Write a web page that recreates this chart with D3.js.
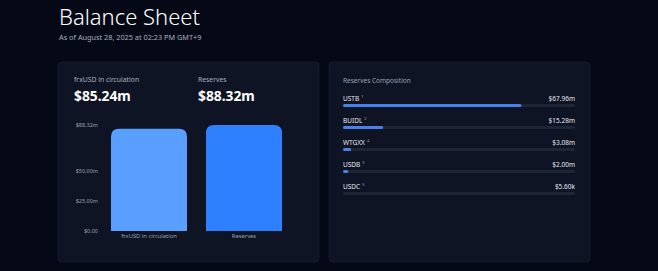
<!DOCTYPE html>
<html>
<head>
<meta charset="utf-8">
<script src="https://cdn.jsdelivr.net/npm/d3@7"></script>
<style>
  body { margin: 0; background: #050916; font-family: "Noto Sans", "Open Sans", sans-serif; }
  svg { display: block; }
</style>
</head>
<body>
<div id="chart"></div>
<script>
// summary numbers (millions)
var summaryLabels = ["frxUSD in circulation", "Reserves"]
var summaryValues = [85.24, 88.32]
var summaryText = ["$85.24m", "$88.32m"]
var yTicks = [0, 25, 50, 88.32]
var yTickLabels = ["$0.00", "$25.00m", "$50.00m", "$88.32m"]

// reserves composition
var assets = ["USTB", "BUIDL", "WTGXX", "USDB", "USDC"]
var assetNotes = ["1", "2", "4", "3", "5"]
var assetValues = [67.96, 15.28, 3.08, 2.00, 0.0056]
var assetText = ["$67.96m", "$15.28m", "$3.08m", "$2.00m", "$5.60k"]

var W = 658, H = 271
var svg = d3.select("#chart").append("svg")
    .attr("width", W).attr("height", H)

// header
svg.append("text")
    .attr("x", 59).attr("y", 25)
    .attr("fill", "#ffffff")
    .attr("font-size", "22px")
    .attr("font-weight", 300)
    .text("Balance Sheet")
svg.append("text")
    .attr("x", 59).attr("y", 40)
    .attr("fill", "#a9b0c0")
    .attr("font-size", "7.3px")
    .text("As of August 28, 2025 at 02:23 PM GMT+9")

// panels
var panels = [[58, 62, 261, 200], [329, 62, 261, 200]]
svg.selectAll("rect.panel").data(panels).enter().append("rect")
    .attr("class", "panel")
    .attr("x", d => d[0]).attr("y", d => d[1])
    .attr("width", d => d[2]).attr("height", d => d[3])
    .attr("rx", 4)
    .attr("fill", "#0e1424")
    .attr("stroke", "#141b2e")

// ---- left panel: summary ----
var sumX = [74, 198]
summaryLabels.forEach(function(lab, i) {
    svg.append("text").attr("x", sumX[i]).attr("y", 82)
        .attr("fill", "#aab1c2").attr("font-size", "6.8px").text(lab)
    svg.append("text").attr("x", sumX[i]).attr("y", 101)
        .attr("fill", "#ffffff").attr("font-size", "13.8px")
        .attr("font-weight", 700).text(summaryText[i])
})

var x = d3.scaleBand()
    .domain(summaryLabels)
    .range([101.5, 291.5])
    .paddingInner(0.2)
    .paddingOuter(0.1)
var y = d3.scaleLinear()
    .domain([0, 88.32])
    .range([231, 125])

var yAxis = svg.append("g")
    .attr("transform", "translate(98,0)")
    .call(d3.axisLeft(y).tickValues(yTicks).tickSize(0).tickPadding(0)
        .tickFormat((d, i) => yTickLabels[i]))
yAxis.select(".domain").remove()
yAxis.selectAll("text").attr("fill", "#9aa2b4").attr("font-size", "5.5px")
    .attr("font-family", "Noto Sans, sans-serif")

var barColors = ["#589fff", "#2f80ff"]
var r = 8
svg.append("g").selectAll("path")
    .data(summaryValues).enter().append("path")
    .attr("fill", (d, i) => barColors[i])
    .attr("d", function(d, i) {
        var x0 = x(summaryLabels[i]), w = x.bandwidth(), y0 = y(d), y1 = y(0)
        return "M" + x0 + "," + y1 +
            "V" + (y0 + r) +
            "Q" + x0 + "," + y0 + " " + (x0 + r) + "," + y0 +
            "H" + (x0 + w - r) +
            "Q" + (x0 + w) + "," + y0 + " " + (x0 + w) + "," + (y0 + r) +
            "V" + y1 + "Z"
    })

var xAxis = svg.append("g")
    .attr("transform", "translate(0,231)")
    .call(d3.axisBottom(x).tickSize(0).tickPadding(3))
xAxis.select(".domain").remove()
xAxis.selectAll("text").attr("fill", "#9aa2b4").attr("font-size", "5.8px")
    .attr("font-family", "Noto Sans, sans-serif")

// ---- right panel: composition ----
svg.append("text").attr("x", 343).attr("y", 83)
    .attr("fill", "#9aa2b4").attr("font-size", "6.5px").text("Reserves Composition")

var px = d3.scaleLinear().domain([0, 88.32]).range([343, 575])
var rowY = d3.scaleBand().domain(assets).range([92, 202]).padding(0)

var rows = svg.append("g").selectAll("g")
    .data(assets).enter().append("g")
    .attr("transform", d => "translate(0," + rowY(d) + ")")

rows.append("text").attr("x", 343).attr("y", 8.5)
    .attr("fill", "#e6e9f0").attr("font-size", "6.5px")
    .text(d => d)
    .append("tspan").attr("dx", 2).attr("dy", -3)
    .attr("font-size", "4px").attr("fill", "#9aa2b4")
    .text((d, i) => assetNotes[i])

rows.append("text").attr("x", 575).attr("y", 8.5)
    .attr("text-anchor", "end")
    .attr("fill", "#e6e9f0").attr("font-size", "6.5px")
    .text((d, i) => assetText[i])

rows.append("rect").attr("x", px(0)).attr("y", 12)
    .attr("width", px(88.32) - px(0)).attr("height", 3).attr("rx", 1.5)
    .attr("fill", "#1e2535")

rows.append("rect").attr("x", px(0)).attr("y", 12)
    .attr("width", (d, i) => Math.max(px(assetValues[i]) - px(0), assetValues[i] > 0.01 ? 4 : 0))
    .attr("height", 3).attr("rx", 1.5)
    .attr("fill", "#4a80ea")
</script>
</body>
</html>
